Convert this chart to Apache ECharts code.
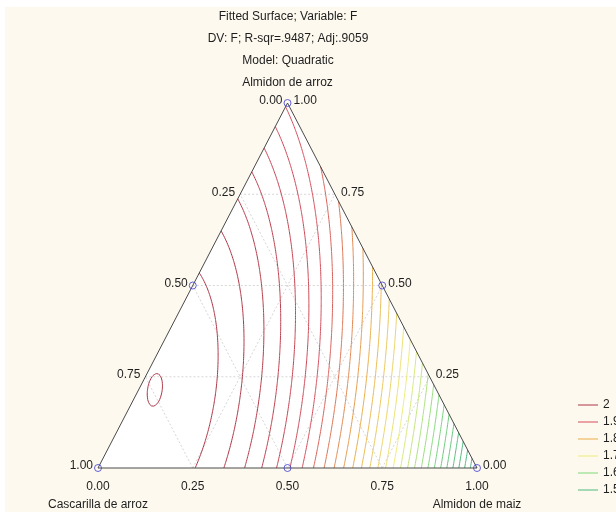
<!DOCTYPE html>
<html>
<head>
<meta charset="utf-8">
<script src="https://cdn.jsdelivr.net/npm/echarts@6/dist/echarts.min.js"></script>
<style>
html, body { margin: 0; padding: 0; background: #fff; }
#chart { width: 616px; height: 512px; }
</style>
</head>
<body>
<div id="chart"></div>
<script>
// ternary fitted surface: A = Almidon de arroz (top), B = Cascarilla de arroz (bottom-left), C = Almidon de maiz (bottom-right)
const titleLines = ['Fitted Surface; Variable: F', 'DV: F; R-sqr=.9487; Adj:.9059', 'Model: Quadratic'];
const componentNames = ['Almidon de arroz', 'Cascarilla de arroz', 'Almidon de maiz'];
// quadratic Scheffe model: A, B, C, AB, AC, BC
const coefs = [1.89602, 2.02127, 1.43628, 0.26391, 0.44611, 0.78];
// simplex-lattice design points (A, B, C)
const designPoints = [[1, 0, 0], [0, 1, 0], [0, 0, 1], [0.5, 0.5, 0], [0.5, 0, 0.5], [0, 0.5, 0.5]];
const ticks = [0, 0.25, 0.5, 0.75, 1];
const tickLabels = ['0.00', '0.25', '0.50', '0.75', '1.00'];
const gridValues = [0.25, 0.5, 0.75];
const levels = [2.04, 2.02, 2.00, 1.98, 1.96, 1.94, 1.92, 1.90, 1.88, 1.86, 1.84, 1.82, 1.80, 1.78, 1.76,
  1.74, 1.72, 1.70, 1.68, 1.66, 1.64, 1.62, 1.60, 1.58, 1.56, 1.54, 1.52, 1.50, 1.48, 1.46, 1.44];
const legendLevels = ['2', '1.9', '1.8', '1.7', '1.6', '1.5'];
const legendValues = [2.0, 1.9, 1.8, 1.7, 1.6, 1.5];
const legendColors = ['#ac3444', '#d44c5a', '#e8ac44', '#ecec78', '#80d878', '#4cb878'];

const FONT = 'Arial, "Liberation Sans", sans-serif';
const TXT = '#1e1e1e';

// ternary -> plane (x along bottom, y = height)
const toXY = (A, C) => [C + A / 2, A];
const model = (A, B, C) => coefs[0] * A + coefs[1] * B + coefs[2] * C +
  coefs[3] * A * B + coefs[4] * A * C + coefs[5] * B * C;

function hexRgb(h) { return [1, 3, 5].map((i) => parseInt(h.slice(i, i + 2), 16)); }
function levelColor(v) {
  if (v >= legendValues[0]) return legendColors[0];
  const n = legendValues.length;
  if (v <= legendValues[n - 1]) return legendColors[n - 1];
  for (let i = 0; i < n - 1; i++) {
    if (v <= legendValues[i] && v >= legendValues[i + 1]) {
      const t = (legendValues[i] - v) / (legendValues[i] - legendValues[i + 1]);
      const a = hexRgb(legendColors[i]), b = hexRgb(legendColors[i + 1]);
      return 'rgb(' + a.map((x, k) => Math.round(x + (b[k] - x) * t)).join(',') + ')';
    }
  }
  return legendColors[n - 1];
}

// triangular mesh over the simplex, marching triangles
const N = 160;
const W = N + 1;
const vals = new Float64Array(W * W);
const idx = (a, c) => a * W + c;
for (let a = 0; a <= N; a++) {
  for (let c = 0; c <= N - a; c++) {
    const A = a / N, C = c / N;
    vals[idx(a, c)] = model(A, 1 - A - C, C);
  }
}
const posOf = (k) => toXY(Math.floor(k / W) / N, (k % W) / N);
const tris = [];
for (let a = 0; a < N; a++) {
  for (let c = 0; c < N - a; c++) {
    tris.push([idx(a, c), idx(a, c + 1), idx(a + 1, c)]);
    if (a + c + 2 <= N) tris.push([idx(a + 1, c), idx(a, c + 1), idx(a + 1, c + 1)]);
  }
}
const M = W * W;

function contourLines(L) {
  const pts = new Map();
  const adj = new Map();
  const link = (u, v) => {
    if (!adj.has(u)) adj.set(u, []);
    if (!adj.has(v)) adj.set(v, []);
    adj.get(u).push(v);
    adj.get(v).push(u);
  };
  for (const t of tris) {
    const cross = [];
    for (let e = 0; e < 3; e++) {
      const p = t[e], q = t[(e + 1) % 3];
      const vp = vals[p] - L, vq = vals[q] - L;
      if ((vp >= 0) !== (vq >= 0)) {
        const key = p < q ? p * M + q : q * M + p;
        if (!pts.has(key)) {
          const s = vp / (vp - vq);
          const P = posOf(p), Q = posOf(q);
          pts.set(key, [P[0] + s * (Q[0] - P[0]), P[1] + s * (Q[1] - P[1])]);
        }
        cross.push(key);
      }
    }
    if (cross.length === 2) link(cross[0], cross[1]);
  }
  const used = new Set();
  const walk = (start) => {
    const path = [start];
    used.add(start);
    let cur = start;
    for (;;) {
      const nb = adj.get(cur).find((k) => !used.has(k));
      if (nb === undefined) break;
      used.add(nb);
      path.push(nb);
      cur = nb;
    }
    return path;
  };
  const out = [];
  for (const [k, nb] of adj) if (nb.length === 1 && !used.has(k)) out.push(walk(k));
  for (const k of adj.keys()) {
    if (!used.has(k)) { const p = walk(k); p.push(p[0]); out.push(p); }
  }
  return out.map((p) => p.map((k) => pts.get(k)));
}

const contourData = [];
levels.forEach((L) => {
  const color = levelColor(L);
  contourLines(L).forEach((coords) => {
    if (coords.length > 1) contourData.push({ coords, lineStyle: { color } });
  });
});

// dotted reference grid inside the triangle
const gridData = [];
gridValues.forEach((v) => {
  gridData.push({ coords: [toXY(v, 0), toXY(v, 1 - v)] });       // A = v
  gridData.push({ coords: [toXY(0, 1 - v), toXY(1 - v, 0)] });   // B = v
  gridData.push({ coords: [toXY(0, v), toXY(1 - v, v)] });       // C = v
});

// edge tick labels and component names
const labelItems = [];
ticks.forEach((t, i) => {
  labelItems.push({ p: toXY(1 - t, 0), text: tickLabels[i], align: 'right', dx: -5, dy: -2 });   // left edge: Cascarilla
  labelItems.push({ p: toXY(t, 1 - t), text: tickLabels[i], align: 'left', dx: 6, dy: -2 });     // right edge: Almidon de arroz
  labelItems.push({ p: toXY(0, t), text: tickLabels[i], align: 'center', dx: 0, dy: 19 });       // bottom: Almidon de maiz
});
labelItems.push({ p: toXY(1, 0), text: componentNames[0], align: 'center', dx: 0, dy: -20 });
labelItems.push({ p: toXY(0, 0), text: componentNames[1], align: 'center', dx: 0, dy: 37 });
labelItems.push({ p: toXY(0, 1), text: componentNames[2], align: 'center', dx: 0, dy: 37 });

const chart = echarts.init(document.getElementById('chart'), null, { renderer: 'canvas' });

const option = {
  animation: false,
  backgroundColor: '#ffffff',
  grid: { left: 98, top: 103, width: 379, height: 365 },
  xAxis: { type: 'value', min: 0, max: 1, show: false },
  yAxis: { type: 'value', min: 0, max: 1, show: false },
  legend: {
    orient: 'vertical', left: 573, top: 393,
    itemWidth: 20, itemHeight: 1, itemGap: 3,
    textStyle: { fontFamily: FONT, fontSize: 12, lineHeight: 14, color: TXT },
    data: legendLevels.map((name) => ({ name, icon: 'rect' })),
    selectedMode: false,
  },
  graphic: [
    { type: 'rect', left: 5, top: 7, shape: { width: 611, height: 505 }, style: { fill: '#fdf9ee' }, z: -10, silent: true },
    ...titleLines.map((s, i) => ({
      type: 'text', x: 288, y: 17 + i * 22,
      style: { text: s, font: '12px ' + FONT, fill: TXT, align: 'center', verticalAlign: 'middle', textAlign: 'center', textVerticalAlign: 'middle' },
      silent: true,
    })),
  ],
  series: [
    {
      type: 'custom', name: 'frame-fill', silent: true, z: 1,
      data: [[0, 0]],
      renderItem: (params, api) => ({
        type: 'polygon',
        shape: { points: [api.coord(toXY(0, 0)), api.coord(toXY(0, 1)), api.coord(toXY(1, 0))] },
        style: { fill: '#ffffff' },
      }),
    },
    {
      type: 'lines', name: 'grid', coordinateSystem: 'cartesian2d', polyline: true, silent: true, z: 2,
      lineStyle: { color: '#d6d6d6', width: 1, type: [2, 2], opacity: 1 },
      data: gridData,
    },
    {
      type: 'lines', name: 'contours', coordinateSystem: 'cartesian2d', polyline: true, silent: true, z: 3,
      lineStyle: { width: 1, opacity: 1 },
      data: contourData,
    },
    {
      type: 'custom', name: 'frame', silent: true, z: 4,
      data: [[0, 0]],
      renderItem: (params, api) => ({
        type: 'polygon',
        shape: { points: [api.coord(toXY(0, 0)), api.coord(toXY(0, 1)), api.coord(toXY(1, 0))] },
        style: { fill: 'none', stroke: '#4a4a4a', lineWidth: 1 },
      }),
    },
    {
      type: 'scatter', name: 'design', silent: true, z: 5,
      symbol: 'circle', symbolSize: 7,
      itemStyle: { color: 'rgba(255,255,255,0)', borderColor: '#3c3cd2', borderWidth: 1 },
      data: designPoints.map((d) => toXY(d[0], d[2])),
    },
    {
      type: 'custom', name: 'labels', silent: true, z: 6,
      data: labelItems.map((d) => d.p),
      renderItem: (params, api) => {
        const d = labelItems[params.dataIndex];
        const p = api.coord(d.p);
        return {
          type: 'text', x: p[0] + d.dx, y: p[1] + d.dy,
          style: { text: d.text, font: '12px ' + FONT, fill: TXT, align: d.align, verticalAlign: 'middle', textAlign: d.align, textVerticalAlign: 'middle' },
        };
      },
    },
    ...legendLevels.map((name, i) => ({
      type: 'line', name, data: [], symbol: 'none',
      lineStyle: { color: legendColors[i], width: 1 },
      itemStyle: { color: legendColors[i] },
    })),
  ],
};

chart.setOption(option);
</script>
</body>
</html>
